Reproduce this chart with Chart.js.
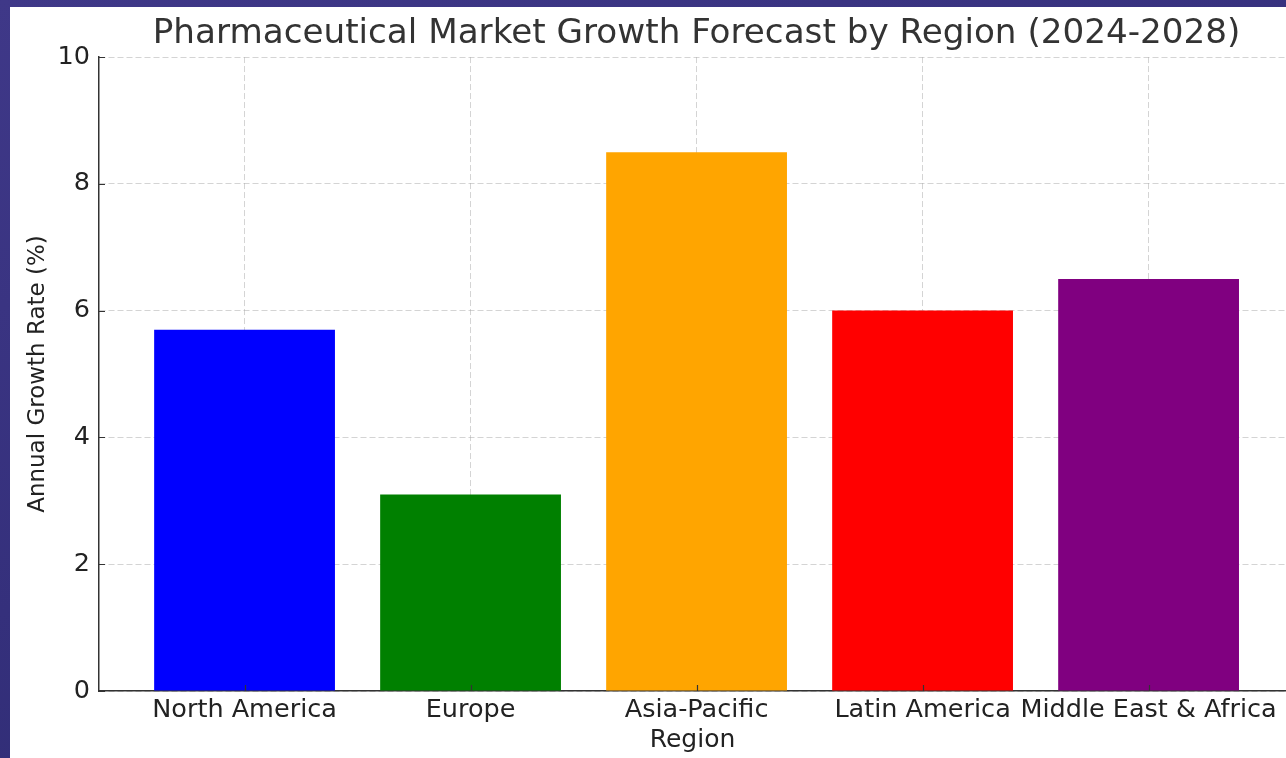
<!DOCTYPE html>
<html>
<head>
<meta charset="utf-8">
<script src="https://cdn.jsdelivr.net/npm/chart.js@4.4.1/dist/chart.umd.min.js"></script>
<style>
  html, body { margin: 0; padding: 0; width: 1286px; height: 758px; overflow: hidden; }
  body { background: linear-gradient(160deg, #3f3888 0%, #35307c 50%, #2b296e 100%); }
  #wrap { position: absolute; left: 10px; top: 7px; width: 1276px; height: 751px; background: #fff; }
</style>
</head>
<body>
<div id="wrap"><canvas id="marketChart"></canvas></div>
<script>
var regions = ['North America', 'Europe', 'Asia-Pacific', 'Latin America', 'Middle East & Africa'];
var growthRates = [5.7, 3.1, 8.5, 6.0, 6.5];
var barColors = ['#0000ff', '#008000', '#ffa500', '#ff0000', '#800080'];
var yTicks = [0, 2, 4, 6, 8, 10];

var fontFamily = '"DejaVu Sans", sans-serif';

// matplotlib style ticks drawn inward
var innerTicks = {
    id: 'innerTicks',
    afterDraw: function (chart) {
        var ctx = chart.ctx;
        var area = chart.chartArea;
        var x = chart.scales.x, y = chart.scales.y;
        ctx.save();
        ctx.strokeStyle = '#333';
        ctx.lineWidth = 1.2;
        ctx.beginPath();
        yTicks.forEach(function (v) {
            var py = Math.round(y.getPixelForValue(v)) + 0.5;
            ctx.moveTo(area.left, py);
            ctx.lineTo(area.left + 6, py);
        });
        regions.forEach(function (r, i) {
            var px = Math.round(x.getPixelForValue(i)) + 0.5;
            ctx.moveTo(px, area.bottom);
            ctx.lineTo(px, area.bottom - 6);
        });
        ctx.stroke();
        ctx.restore();
    }
};

// center the title over the plot (which runs a bit past the right edge)
var titleOverPlot = {
    id: 'titleOverPlot',
    afterLayout: function (chart) {
        var t = chart.titleBlock;
        if (!t) return;
        var x = chart.scales.x;
        t.left = x.left;
        t.right = x.getPixelForValue(x.min + 5.288);
        t.width = t.right - t.left;
    }
};

var points = regions.map(function (r, i) { return { x: i, y: growthRates[i] }; });

new Chart(document.getElementById('marketChart'), {
    type: 'bar',
    data: {
        datasets: [{
            data: points,
            backgroundColor: barColors,
            borderWidth: 0,
            barPercentage: 1,
            categoryPercentage: 0.8
        }]
    },
    options: {
        responsive: true,
        maintainAspectRatio: false,
        animation: false,
        layout: { padding: { left: 0, right: 0, top: 0, bottom: 0 } },
        plugins: {
            legend: { display: false },
            tooltip: { enabled: false },
            title: {
                display: true,
                text: 'Pharmaceutical Market Growth Forecast by Region (2024-2028)',
                color: '#333',
                font: { family: fontFamily, size: 34.2, weight: 'normal' },
                padding: { top: 7, bottom: 2 }
            }
        },
        scales: {
            x: {
                type: 'linear',
                min: -0.644,
                max: 4.608,
                offset: false,
                z: 1,
                afterBuildTicks: function (scale) {
                    scale.ticks = regions.map(function (r, i) { return { value: i }; });
                },
                ticks: {
                    color: '#222',
                    font: { family: fontFamily, size: 25.5 },
                    padding: 4,
                    maxRotation: 0,
                    autoSkip: false,
                    callback: function (v) { return regions[v]; }
                },
                grid: {
                    offset: false,
                    color: 'rgba(170,170,170,0.5)',
                    lineWidth: 1,
                    drawTicks: false,
                    tickLength: 0
                },
                border: { display: true, color: '#333', width: 1.5, dash: [6, 3] },
                title: {
                    display: true,
                    text: 'Region',
                    color: '#222',
                    font: { family: fontFamily, size: 25 },
                    padding: { top: 0, bottom: 3 }
                },
                afterFit: function (scale) { scale.height = 67; }
            },
            y: {
                min: 0,
                max: 10,
                z: 1,
                afterBuildTicks: function (scale) {
                    scale.ticks = yTicks.map(function (v) { return { value: v }; });
                },
                ticks: {
                    color: '#222',
                    font: { family: fontFamily, size: 25.5 },
                    padding: 9
                },
                grid: {
                    color: 'rgba(170,170,170,0.5)',
                    lineWidth: 1,
                    drawTicks: false,
                    tickLength: 0
                },
                border: { display: true, color: '#333', width: 1.5, dash: [6, 3] },
                title: {
                    display: true,
                    text: 'Annual Growth Rate (%)',
                    color: '#222',
                    font: { family: fontFamily, size: 23 },
                    padding: { top: 14, bottom: 4 }
                },
                afterFit: function (scale) { scale.width = 89; }
            }
        }
    },
    plugins: [innerTicks, titleOverPlot]
});
</script>
</body>
</html>
